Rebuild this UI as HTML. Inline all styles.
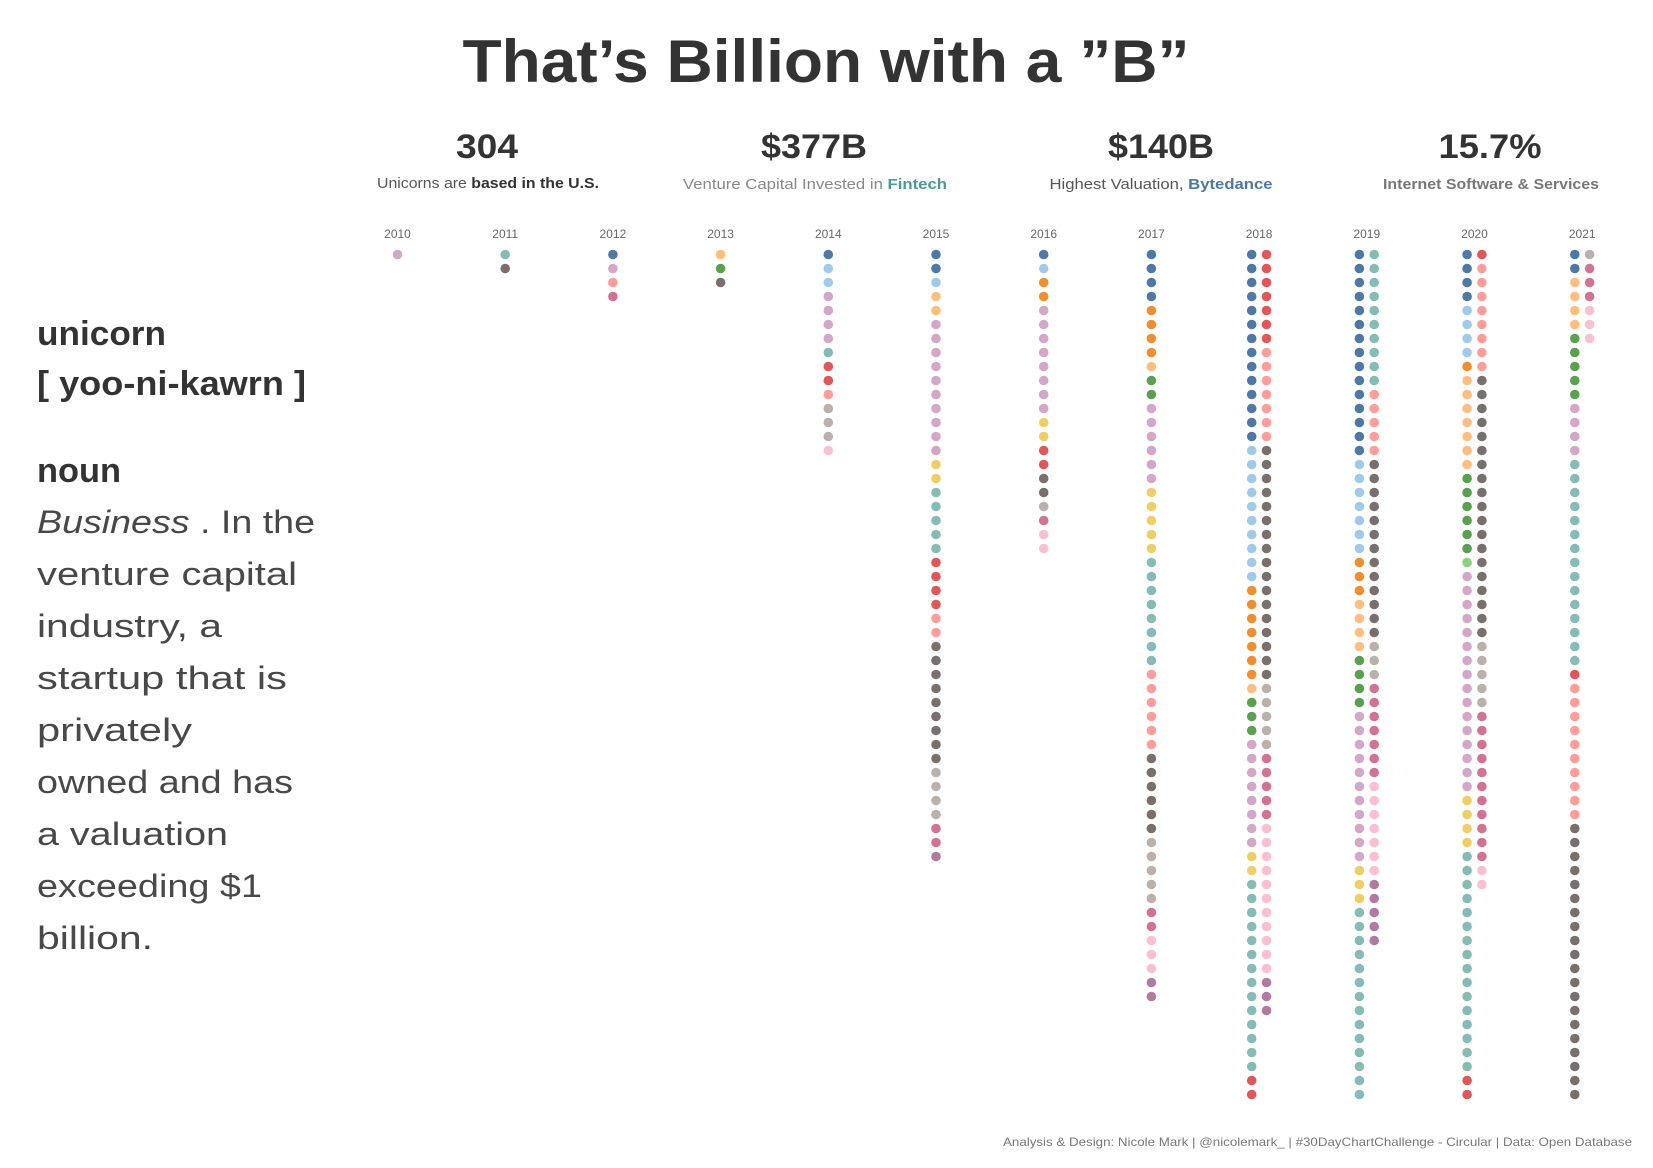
<!DOCTYPE html>
<html><head><meta charset="utf-8"><style>
html,body{margin:0;padding:0;background:#fff;}
svg{display:block;font-family:"Liberation Sans",sans-serif;}
</style></head><body>
<svg id="chart" width="1653" height="1168" viewBox="0 0 1653 1168" xmlns="http://www.w3.org/2000/svg">
<text x="826" y="82" text-anchor="middle" font-size="60" font-weight="bold" fill="#333" textLength="727" lengthAdjust="spacingAndGlyphs">That’s Billion with a ”B”</text>

<g>
<text x="487" y="158" text-anchor="middle" font-size="34" font-weight="bold" fill="#333" textLength="62" lengthAdjust="spacingAndGlyphs">304</text>
<text x="488" y="188" text-anchor="middle" font-size="15" fill="#555" textLength="222" lengthAdjust="spacingAndGlyphs">Unicorns are <tspan font-weight="bold" fill="#333">based in the U.S.</tspan></text>
</g>
<g>
<text x="814" y="158" text-anchor="middle" font-size="34" font-weight="bold" fill="#333" textLength="106" lengthAdjust="spacingAndGlyphs">$377B</text>
<text x="815" y="189" text-anchor="middle" font-size="15" fill="#888" textLength="264" lengthAdjust="spacingAndGlyphs">Venture Capital Invested in <tspan font-weight="bold" fill="#4a9a8f">Fintech</tspan></text>
</g>
<g>
<text x="1161" y="158" text-anchor="middle" font-size="34" font-weight="bold" fill="#333" textLength="106" lengthAdjust="spacingAndGlyphs">$140B</text>
<text x="1161" y="189" text-anchor="middle" font-size="15" fill="#555" textLength="223" lengthAdjust="spacingAndGlyphs">Highest Valuation, <tspan font-weight="bold" fill="#4e79a7">Bytedance</tspan></text>
</g>
<g>
<text x="1490" y="158" text-anchor="middle" font-size="34" font-weight="bold" fill="#333" textLength="103" lengthAdjust="spacingAndGlyphs">15.7%</text>
<text x="1491" y="189" text-anchor="middle" font-size="15" font-weight="bold" fill="#777" textLength="216" lengthAdjust="spacingAndGlyphs">Internet Software &amp; Services</text>
</g>

<g fill="#333">
<text x="37" y="345" font-size="34" font-weight="bold" textLength="129" lengthAdjust="spacingAndGlyphs">unicorn</text>
<text x="37" y="395" font-size="34" font-weight="bold" textLength="269" lengthAdjust="spacingAndGlyphs">[ yoo-ni-kawrn ]</text>
<text x="37" y="482" font-size="34" font-weight="bold" textLength="84" lengthAdjust="spacingAndGlyphs">noun</text>
<g font-size="32" fill="#484848">
<text x="37" y="533" textLength="278" lengthAdjust="spacingAndGlyphs"><tspan font-style="italic">Business</tspan> . In the</text>
<text x="37" y="585" textLength="260" lengthAdjust="spacingAndGlyphs">venture capital</text>
<text x="37" y="637" textLength="185" lengthAdjust="spacingAndGlyphs">industry, a</text>
<text x="37" y="689" textLength="250" lengthAdjust="spacingAndGlyphs">startup that is</text>
<text x="37" y="741" textLength="155" lengthAdjust="spacingAndGlyphs">privately</text>
<text x="37" y="793" textLength="256" lengthAdjust="spacingAndGlyphs">owned and has</text>
<text x="37" y="845" textLength="191" lengthAdjust="spacingAndGlyphs">a valuation</text>
<text x="37" y="897" textLength="225" lengthAdjust="spacingAndGlyphs">exceeding $1</text>
<text x="37" y="949" textLength="116" lengthAdjust="spacingAndGlyphs">billion.</text>
</g>
</g>

<g id="years"></g>
<g id="dots"></g>

<text x="1632" y="1146" text-anchor="end" font-size="12" fill="#777" textLength="629" lengthAdjust="spacingAndGlyphs">Analysis &amp; Design: Nicole Mark | @nicolemark_ | #30DayChartChallenge - Circular | Data: Open Database</text>
</svg>
<script>
const years = [2010,2011,2012,2013,2014,2015,2016,2017,2018,2019,2020,2021];
const leftRuns = [
 "p1","T1 K1","A1 p1 r1 M1","o1 G1 K1","A1 B2 p4 T1 R2 r1 k3 m1",
 "A2 B1 o2 p10 Y2 T5 R4 r2 K9 k4 M2 P1","A1 B1 O2 p8 Y2 R2 K2 k1 M1 m2",
 "A4 O4 o1 G2 p6 Y5 T8 r6 K6 k5 M2 m3 P2",
 "A14 B10 O7 o1 G3 p8 Y2 T14 R2","A15 B7 O3 o4 G4 p11 Y3 T14",
 "A4 B4 O1 o7 G6 g1 p16 Y4 T16 R2","A2 o4 G5 p4 T15 R1 r10 K20"
];
const rightRuns = ["","","","","","","","",
 "R7 r7 K17 k5 M5 m11 P3","T10 r5 K13 k3 M7 m7 P5","R1 r8 K19 k5 M11 m2","k1 M3 m3"];
const palette = {A:"#4e79a7",B:"#a0cbe8",O:"#f28e2b",o:"#ffbe7d",G:"#59a14f",g:"#8cd17d",Y:"#f1ce63",T:"#86bcb6",R:"#e15759",r:"#ff9d9a",K:"#79706e",k:"#bab0ac",M:"#d37295",m:"#fabfd2",P:"#b07aa1",p:"#d4a6c8"};

const NS="http://www.w3.org/2000/svg";
const xScale = i => 397.5 + i*107.7;
const yScale = r => 254.5 + r*14;
const yearsG=document.getElementById('years');
const dotsG=document.getElementById('dots');
function expand(s){const out=[];if(!s)return out;s.split(' ').forEach(t=>{const c=t[0],n=+t.slice(1);for(let j=0;j<n;j++)out.push(c);});return out;}
years.forEach((yr,i)=>{
  const t=document.createElementNS(NS,'text');
  
  
  t.setAttribute('x',xScale(i));t.setAttribute('y',238);
  t.setAttribute('text-anchor','middle');t.setAttribute('font-size','12');t.setAttribute('fill','#666');
  t.textContent=yr;yearsG.appendChild(t);
  const L=expand(leftRuns[i]),R=expand(rightRuns[i]);
  const two=R.length>0;
  [[L,two?-7.4:0],[R,7.4]].forEach(([arr,off])=>{
    arr.forEach((c,r)=>{
      const d=document.createElementNS(NS,'circle');
      
      
      d.setAttribute('cx',xScale(i)+off);d.setAttribute('cy',yScale(r));
      d.setAttribute('r',4.8);d.setAttribute('fill',palette[c]);
      dotsG.appendChild(d);
    });
  });
});
</script>
</body></html>
